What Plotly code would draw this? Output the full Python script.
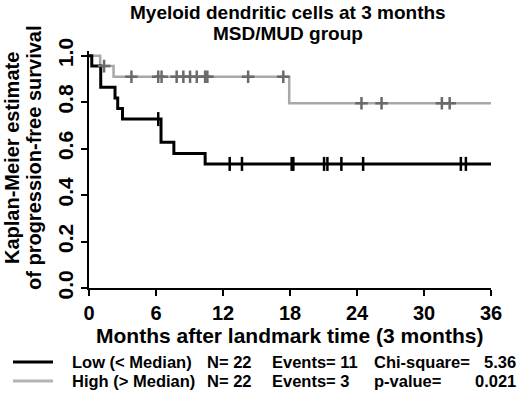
import plotly.graph_objects as go

# ---- data ----
low_t = [0, 0.25, 1.05, 2.33, 2.57, 3.0, 6.45, 7.6, 10.4, 36]
low_s = [1.0, 0.955, 0.864, 0.818, 0.773, 0.727, 0.627, 0.579, 0.534, 0.534]
low_cens_t = [6.2, 12.6, 13.7, 18.15, 18.3, 21.05, 21.35, 22.6, 24.55, 33.3, 33.75]
low_cens_s = [0.727, 0.534, 0.534, 0.534, 0.534, 0.534, 0.534, 0.534, 0.534, 0.534, 0.534]

high_t = [0, 1.0, 2.2, 17.93, 36]
high_s = [1.0, 0.955, 0.909, 0.795, 0.795]
high_cens_t = [1.35, 3.8, 6.2, 6.5, 7.85, 8.45, 9.05, 9.65, 10.4, 10.6, 14.25, 17.4,
               24.4, 26.2, 31.6, 32.3]
high_cens_s = [0.955] + [0.909] * 11 + [0.795] * 4

x_ticks = [0, 6, 12, 18, 24, 30, 36]
y_ticks = [0.0, 0.2, 0.4, 0.6, 0.8, 1.0]
y_tick_labels = ["0.0", "0.2", "0.4", "0.6", "0.8", "1.0"]

title_lines = ["Myeloid dendritic cells at 3 months", "MSD/MUD group"]
x_title = "Months after landmark time (3 months)"
y_title = ["Kaplan-Meier estimate", "of progression-free survival"]

legend_rows = [
    ["Low (< Median)", "N= 22", "Events= 11", "Chi-square=", "5.36"],
    ["High (> Median)", "N= 22", "Events= 3", "p-value=", "0.021"],
]

FONT = "Liberation Sans, Arial, sans-serif"
W, H = 520, 396
L, R, T, B = 89, 29, 51, 108
PW, PH = W - L - R, H - T - B


def px(x):
    return (x - L) / PW


def py(y):
    return (H - B - y) / PH


fig = go.Figure()
fig.add_trace(go.Scatter(x=high_t, y=high_s, mode="lines", line_shape="hv",
                         line=dict(color="#a8a8a8", width=2.5), showlegend=False))
fig.add_trace(go.Scatter(x=low_t, y=low_s, mode="lines", line_shape="hv",
                         line=dict(color="black", width=3), showlegend=False))
fig.add_trace(go.Scatter(x=high_cens_t, y=high_cens_s, mode="markers", cliponaxis=False,
                         marker=dict(symbol="cross-thin", size=9,
                                     line=dict(color="#6a6a6a", width=2.5)),
                         showlegend=False))
fig.add_trace(go.Scatter(x=low_cens_t, y=low_cens_s, mode="markers", cliponaxis=False,
                         marker=dict(symbol="line-ns", size=10,
                                     line=dict(color="black", width=2.5)),
                         showlegend=False))

annotations = []
for i, t in enumerate(title_lines):
    annotations.append(dict(text=t, x=px(288), y=py(12 + i * 21), xref="paper", yref="paper",
                            showarrow=False, xanchor="center", yanchor="middle",
                            font=dict(size=19, family=FONT, color="black", weight="bold")))
annotations.append(dict(text=x_title, x=px(289), y=py(335), xref="paper", yref="paper",
                        showarrow=False, xanchor="center", yanchor="middle",
                        font=dict(size=21, family=FONT, color="black", weight="bold")))
for i, t in enumerate(y_title):
    annotations.append(dict(text=t, x=px(12 + i * 22), y=py(158), xref="paper", yref="paper",
                            showarrow=False, textangle=-90, xanchor="center", yanchor="middle",
                            font=dict(size=20, family=FONT, color="black", weight="bold")))

col_x = [70, 205, 270, 372]
row_y = [362, 381]
for r, row in enumerate(legend_rows):
    for c, txt in enumerate(row[:4]):
        annotations.append(dict(text=txt, x=px(col_x[c]), y=py(row_y[r]), xref="paper", yref="paper",
                                showarrow=False, xanchor="left", yanchor="middle",
                                font=dict(size=16.5, family=FONT, color="black", weight="bold")))
    annotations.append(dict(text=row[4], x=px(518), y=py(row_y[r]), xref="paper", yref="paper",
                            showarrow=False, xanchor="right", yanchor="middle",
                            font=dict(size=16.5, family=FONT, color="black", weight="bold")))

shapes = [
    dict(type="line", xref="paper", yref="paper", x0=px(13), x1=px(53), y0=py(362), y1=py(362),
         line=dict(color="black", width=3)),
    dict(type="line", xref="paper", yref="paper", x0=px(13), x1=px(53), y0=py(381), y1=py(381),
         line=dict(color="#b4b4b4", width=3)),
]

fig.update_layout(
    width=W, height=H,
    margin=dict(l=L, r=R, t=T, b=B, pad=0),
    paper_bgcolor="white", plot_bgcolor="white",
    annotations=annotations, shapes=shapes,
    xaxis=dict(range=[0, 36], tickvals=x_ticks, showgrid=False, zeroline=False,
               automargin=False,
               showline=True, linecolor="black", linewidth=1.5,
               ticks="outside", ticklen=6, tickwidth=1.5, tickcolor="black",
               ticklabelstandoff=0,
               tickfont=dict(size=20, family=FONT, color="black", weight="bold")),
    yaxis=dict(range=[0, 1.02], tickvals=y_ticks, ticktext=y_tick_labels,
               showgrid=False, zeroline=False, tickangle=-90, automargin=False,
               showline=True, linecolor="black", linewidth=1.5,
               ticks="outside", ticklen=6, tickwidth=1.5, tickcolor="black",
               ticklabelstandoff=0,
               tickfont=dict(size=21, family=FONT, color="black", weight="bold")),
)

fig.write_html("out.html", config={"displayModeBar": False},
               post_script="document.body.style.margin='0px';document.body.style.padding='0px';")
